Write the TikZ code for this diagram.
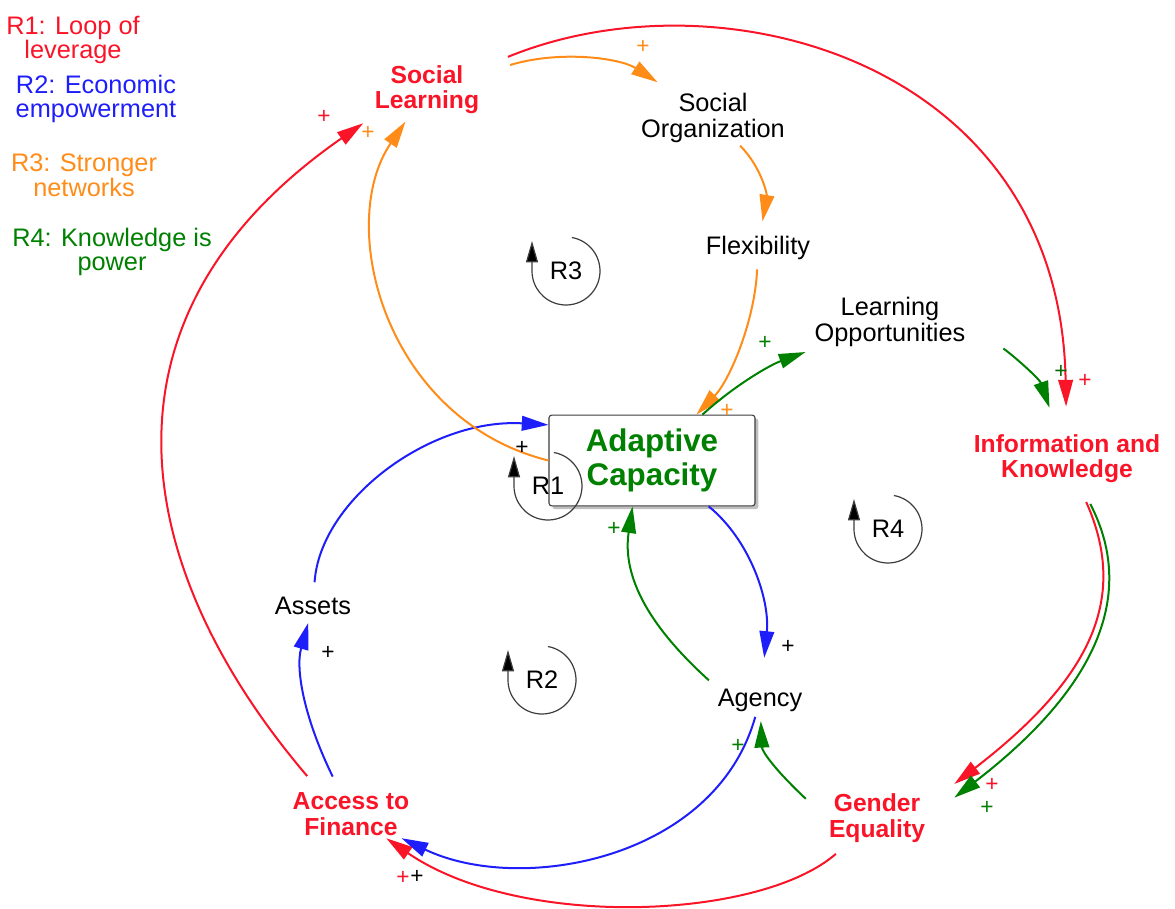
\documentclass[tikz,border=0pt]{standalone}
\usepackage{fontspec}
\setmainfont{Liberation Sans}
\usepackage{tikz}
\usetikzlibrary{arrows.meta,shadows}

\definecolor{cldred}{RGB}{250,20,40}
\definecolor{cldblue}{RGB}{30,30,250}
\definecolor{cldorange}{RGB}{255,140,25}
\definecolor{cldgreen}{RGB}{0,128,0}
\definecolor{loopgray}{RGB}{60,60,60}

\tikzset{
  var/.style={inner sep=2pt, align=center, font=\fontsize{19}{19.5}\selectfont},
  keyvar/.style={var, text=cldred, font=\fontsize{18.5}{19}\selectfont\bfseries},
  stockbox/.style={draw=loopgray, fill=white, rounded corners=2pt, line width=0.8pt,
    minimum width=154.5pt, minimum height=68pt, align=center, text=cldgreen,
    font=\fontsize{23.5}{26}\selectfont\bfseries,
    drop shadow={shadow xshift=2.5pt, shadow yshift=-2.5pt, opacity=0.5}},
  link/.style={line width=1.5pt, -{Triangle[length=20pt,width=11pt]}},
  pol/.style={inner sep=0pt, font=\fontsize{17}{17}\selectfont},
  looplab/.style={inner sep=0pt, font=\fontsize{19}{19}\selectfont},
  loopline/.style={loopgray, line width=0.9pt, -{Triangle[length=16pt,width=9pt,fill=black]}},
  legend/.style={inner sep=0pt, align=center, font=\fontsize{19}{18.5}\selectfont},
}

\begin{document}
\begin{tikzpicture}[x=0.75pt,y=0.75pt,yscale=-1,xscale=1]
\path[use as bounding box] (0,0) rectangle (1175,909);

% Legend
\node[legend, text=cldred] (legR1) at (73,40) {R1: Loop of\\leverage};
\node[legend, text=cldblue] (legR2) at (96,99) {R2: Economic\\empowerment};
\node[legend, text=cldorange] (legR3) at (84,175) {R3: Stronger\\networks};
\node[legend, text=cldgreen] (legR4) at (112,252) {R4: Knowledge is\\power};

% Variables
\node[keyvar] (sl) at (427,90) {Social\\Learning};
\node[var] (so) at (713,118) {Social\\Organization};
\node[var] (flex) at (758,248) {Flexibility};
\node[var] (lo) at (890,322) {Learning\\Opportunities};
\node[keyvar] (ik) at (1067,459) {Information and\\Knowledge};
\node[stockbox] (ac) at (652,460.5) {Adaptive\\Capacity};
\node[var] (assets) at (313,606) {Assets};
\node[var] (agency) at (760,700) {Agency};
\node[keyvar] (af) at (351,814) {Access to\\Finance};
\node[keyvar] (ge) at (877,818) {Gender\\Equality};

% R1 links
\draw[link, cldred, shorten <=21pt, shorten >=19pt] (sl) .. controls (720,-30) and (1060,60) .. (ik);
\draw[link, cldred, shorten <=13pt, shorten >=25pt] (ik) .. controls (1130,600) and (1089,680) .. (ge.15);
\draw[link, cldred, shorten <=10pt] (ge) .. controls (760,920) and (520,930) .. (af);
\draw[link, cldred, shorten <=13.5pt, shorten >=8pt] (af.143) .. controls (134,573) and (80,320) .. (sl.south west);

% R2 links
\draw[link, cldblue, shorten >=21pt] (ac.-39) .. controls (750,540) and (770,600) .. (agency);
\draw[link, cldblue, shorten <=2pt] (agency) .. controls (715,860) and (520,895) .. (af);
\draw[link, cldblue, shorten <=11pt, shorten >=4pt] (af) .. controls (305,720) and (295,670) .. (assets);
\draw[link, cldblue, shorten <=9pt] (assets) .. controls (320,500) and (430,418) .. (ac.161);

% R3 links
\draw[link, cldorange, shorten <=22pt, shorten >=11pt] (sl) .. controls (560,50) and (620,58) .. (so);
\draw[link, cldorange, shorten >=9pt] (so) .. controls (762,168) and (767,195) .. (flex);
\draw[link, cldorange, shorten <=5pt] (flex) .. controls (755,320) and (730,380) .. (ac);
\draw[link, cldorange, shorten >=4pt] (ac.west) .. controls (385,420) and (335,225) .. (sl);

% R4 links
\draw[link, cldgreen, shorten >=5pt] (ac) .. controls (735,385) and (770,365) .. (lo.south west);
\draw[link, cldgreen, shorten <=33pt, shorten >=19pt] (lo.east) .. controls (1020,361) and (1040,380) .. (ik);
\draw[link, cldgreen, shorten <=15pt, shorten >=25pt] (ik) .. controls (1140,600) and (1089,694) .. (ge.east);
\draw[link, cldgreen, shorten <=21pt, shorten >=5pt] (ge.west) .. controls (770,765) and (762,750) .. (agency);
\draw[link, cldgreen, shorten <=6pt] (agency.north west) .. controls (670,645) and (620,590) .. (ac.247);

% Polarities
\node[pol, text=cldred] (pSlIk) at (1085,381) {+};
\node[pol, text=cldred] (pIkGe) at (992,785) {+};
\node[pol, text=cldred] (pGeAf) at (403,878) {+};
\node[pol, text=cldred] (pAfSl) at (324,117) {+};
\node[pol] (pAcAg) at (788,647) {+};
\node[pol] (pAgAf) at (417,877) {+};
\node[pol] (pAfAs) at (328,653) {+};
\node[pol] (pAsAc) at (522,448) {+};
\node[pol, text=cldorange] (pSlSo) at (643,47) {+};
\node[pol, text=cldorange] (pFlAc) at (727,411) {+};
\node[pol, text=cldorange] (pAcSl) at (368,133) {+};
\node[pol, text=cldgreen] (pAcLo) at (765,343) {+};
\node[pol, text=cldgreen!80!black] (pLoIk) at (1061,372) {+};
\node[pol, text=cldgreen] (pIkGe2) at (987,808) {+};
\node[pol, text=cldgreen] (pGeAg) at (738,746) {+};
\node[pol, text=cldgreen] (pAgAc) at (614,529) {+};

% Loop markers
\foreach \lab/\cx/\cy in {R1/548/486, R2/542/680, R3/566/271, R4/888/529} {
  \node[looplab] (\lab) at (\cx,\cy) {\lab};
  \draw[loopline] (\lab.center) ++(-80:34) arc[start angle=-80, end angle=180, radius=34] -- ++(0,-30);
}

\end{tikzpicture}
\end{document}
